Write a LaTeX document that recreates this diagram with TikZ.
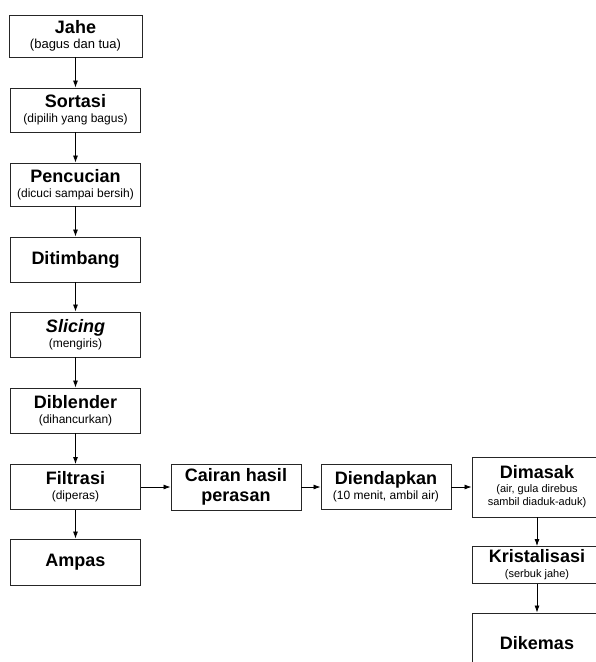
\documentclass[tikz,border=0pt]{standalone}
\usepackage{fontspec}
\setmainfont{Liberation Sans}
\usetikzlibrary{arrows.meta}
\newcommand\ttl[1]{{\fontsize{18}{20}\selectfont\bfseries #1}}
\newcommand\sbt[1]{{\fontsize{12}{14}\selectfont #1}}
\newcommand\sbs[1]{{\fontsize{11}{13}\selectfont #1}}
\tikzset{
  box/.style={draw=black!85, line width=0.9pt, minimum width=130pt, minimum height=45pt,
    inner sep=0pt, align=center, font=\fontsize{12}{15}\selectfont},
  arr/.style={-{Latex[length=7pt,width=5pt]}, line width=0.8pt}
}
\begin{document}
\begin{tikzpicture}[x=1pt,y=-1pt]
\useasboundingbox (0,0) rectangle (596,662);
\clip (0,0) rectangle (596,662);
\node[box, minimum width=133pt, minimum height=42pt] (jahe) at (75.5,36) {\ttl{Jahe}\\{\fontsize{13}{15}\selectfont (bagus dan tua)}};
\node[box, minimum height=44pt] (sortasi) at (75.5,110) {\ttl{Sortasi}\\\sbt{(dipilih yang bagus)}};
\node[box, minimum height=43pt] (pencucian) at (75.5,184.5) {\ttl{Pencucian}\\\sbt{(dicuci sampai bersih)}};
\node[box] (ditimbang) at (75.5,259.5) {\ttl{Ditimbang}};
\node[box] (slicing) at (75.5,334.5) {\ttl{\itshape Slicing}\\\sbt{(mengiris)}};
\node[box] (diblender) at (75.5,410.5) {\ttl{Diblender}\\\sbt{(dihancurkan)}};
\node[box] (filtrasi) at (75.5,487) {\ttl{Filtrasi}\\\sbt{(diperas)}};
\node[box, minimum height=46pt] (ampas) at (75.5,562) {\ttl{Ampas}};
\node[box, minimum height=46pt, font=\fontsize{18}{20}\selectfont\bfseries] (cairan) at (236,487) {Cairan hasil\\perasan};
\node[box] (diendapkan) at (386,487) {\ttl{Diendapkan}\\\sbt{(10 menit, ambil air)}};
\node[box, minimum height=60pt, font=\fontsize{11}{13}\selectfont] (dimasak) at (537,487) {\ttl{Dimasak}\\[1pt]\sbs{(air, gula direbus}\\\sbs{sambil diaduk-aduk)}};
\node[box, minimum height=37pt] (kristal) at (537,565) {\ttl{Kristalisasi}\\\sbs{(serbuk jahe)}};
\node[box, minimum height=60pt] (dikemas) at (537,643) {\ttl{Dikemas}};
\draw[arr] (jahe) -- (sortasi);
\draw[arr] (sortasi) -- (pencucian);
\draw[arr] (pencucian) -- (ditimbang);
\draw[arr] (ditimbang) -- (slicing);
\draw[arr] (slicing) -- (diblender);
\draw[arr] (diblender) -- (filtrasi);
\draw[arr] (filtrasi) -- (ampas);
\draw[arr] (filtrasi) -- (cairan);
\draw[arr] (cairan) -- (diendapkan);
\draw[arr] (diendapkan) -- (dimasak);
\draw[arr] (dimasak) -- (kristal);
\draw[arr] (kristal) -- (dikemas);
\end{tikzpicture}
\end{document}
